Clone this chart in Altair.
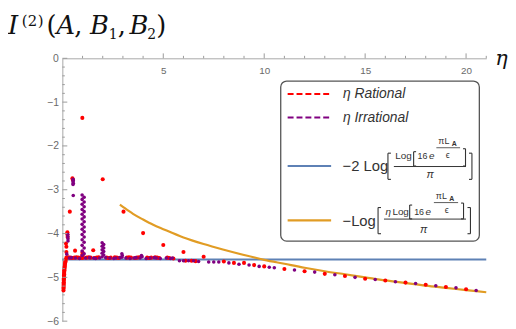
import altair as alt
import pandas as pd

# ---------------- data ----------------
# eta Rational (red points): (eta, value)
rational_column = [
    (0.167, -4.60), (0.154, -4.63), (0.143, -4.66), (0.133, -4.69), (0.125, -4.72),
    (0.118, -4.75), (0.111, -4.78), (0.105, -4.81), (0.100, -4.84), (0.095, -4.87),
    (0.091, -4.90), (0.087, -4.93), (0.083, -4.96), (0.080, -4.99), (0.077, -5.02),
    (0.074, -5.05), (0.071, -5.08), (0.069, -5.11), (0.067, -5.14), (0.065, -5.17),
    (0.063, -5.20), (0.061, -5.23), (0.059, -5.26), (0.057, -5.30)]
rational_upper = [
    (0.18, -4.23), (0.20, -4.30), (0.20, -4.42), (0.25, -3.97), (0.25, -4.02),
    (0.26, -4.08), (0.37, -3.50), (0.50, -2.74), (0.52, -2.77), (0.63, -4.39),
    (0.99, -1.36), (1.00, -4.43), (1.00, -4.47), (1.00, -4.50), (1.00, -4.53),
    (1.00, -4.56), (1.53, -4.38), (2.00, -2.76), (3.03, -3.50), (4.00, -3.99),
    (5.00, -4.26), (6.00, -4.42), (7.00, -4.53)]
rational_band = [
    (0.2, -4.55), (0.3, -4.54), (0.4, -4.55), (0.5, -4.56), (0.6, -4.55), (0.7, -4.54),
    (0.8, -4.55), (0.9, -4.56), (1.2, -4.55), (1.3, -4.54), (1.4, -4.55), (1.6, -4.56),
    (1.7, -4.55), (1.8, -4.54), (2.2, -4.55), (2.3, -4.56), (2.4, -4.55), (2.6, -4.54),
    (2.7, -4.55), (2.8, -4.56), (3.2, -4.55), (3.3, -4.54), (3.4, -4.55), (3.6, -4.56),
    (3.7, -4.55), (3.8, -4.54), (4.2, -4.55), (4.3, -4.56), (4.4, -4.55), (4.6, -4.54),
    (4.7, -4.55), (4.8, -4.56), (5.2, -4.55), (5.3, -4.56), (5.5, -4.57),
    (6.1, -4.62), (6.4, -4.62), (6.6, -4.63)]
rational_tail = [
    (8.0, -4.64), (8.5, -4.67), (9.0, -4.67), (9.5, -4.72), (10.0, -4.75),
    (11.0, -4.81), (12.0, -4.86), (13.0, -4.92), (14.0, -4.97), (15.0, -5.03),
    (16.0, -5.07), (17.0, -5.12), (18.0, -5.17), (19.0, -5.22), (20.0, -5.27)]

# eta Irrational (purple points): (eta, value)
irrational_left = [
    (0.22, -4.47), (0.27, -4.02), (0.27, -4.07), (0.28, -4.12), (0.28, -4.17),
    (0.53, -2.76), (0.54, -2.79), (0.53, -2.82), (0.54, -2.85), (0.53, -2.88), (0.54, -3.13)]
irrational_one = [
    (0.98, -3.12), (1.08, -3.17), (0.98, -3.22), (1.08, -3.28), (0.98, -3.33),
    (1.08, -3.39), (0.98, -3.45), (1.08, -3.50), (0.98, -3.56), (1.08, -3.62),
    (0.98, -3.67), (1.08, -3.73), (0.98, -3.79), (1.08, -3.85), (0.98, -3.90),
    (1.08, -3.96), (0.98, -4.02), (1.08, -4.08), (0.98, -4.14), (1.08, -4.20),
    (0.98, -4.27), (1.08, -4.33), (0.98, -4.40), (1.08, -4.46), (0.98, -4.50)]
irrational_two = [
    (1.97, -4.21), (2.05, -4.25), (1.97, -4.29), (2.05, -4.33), (1.97, -4.37),
    (2.05, -4.41), (1.97, -4.45), (2.05, -4.49), (1.97, -4.53),
    (2.95, -4.46), (2.97, -4.50), (2.95, -4.54), (3.92, -4.50), (3.95, -4.53)]
irrational_band = [
    (0.35, -4.56), (0.45, -4.55), (0.65, -4.56), (0.85, -4.57), (1.15, -4.56),
    (1.35, -4.55), (1.55, -4.56), (1.65, -4.57), (1.85, -4.56), (2.15, -4.55),
    (2.35, -4.56), (2.55, -4.57), (2.65, -4.56), (2.85, -4.55), (3.15, -4.56),
    (3.35, -4.57), (3.55, -4.56), (3.65, -4.55), (3.85, -4.56), (4.15, -4.57),
    (4.35, -4.56), (4.55, -4.55), (4.65, -4.56), (4.85, -4.57), (5.15, -4.56),
    (5.35, -4.57), (5.45, -4.56),
    (5.8, -4.62), (6.0, -4.62), (6.25, -4.62), (6.5, -4.62), (6.75, -4.64)]
irrational_tail = [
    (7.25, -4.65), (7.5, -4.65), (7.75, -4.65), (8.25, -4.67), (8.75, -4.70),
    (9.25, -4.72), (9.75, -4.75), (10.25, -4.77), (10.5, -4.78), (11.5, -4.83),
    (12.5, -4.88), (13.5, -4.94), (14.5, -5.00), (15.5, -5.05), (16.5, -5.10),
    (17.5, -5.14), (18.5, -5.19), (19.5, -5.24), (20.5, -5.30)]

# -2 Log[...] (blue, constant) and -Log[eta ...] (orange curve)
blue_line = [(0.0, -4.59), (21.0, -4.59)]
orange_curve = [
    (2.85, -3.34), (3.0, -3.39), (3.5, -3.55), (4.0, -3.68), (4.5, -3.80), (5.0, -3.90),
    (6.0, -4.09), (7.0, -4.24), (8.0, -4.37), (9.0, -4.49), (10.0, -4.60), (11.0, -4.69),
    (12.0, -4.78), (13.0, -4.86), (14.0, -4.93), (15.0, -5.00), (16.0, -5.07),
    (17.0, -5.13), (18.0, -5.19), (19.0, -5.24), (20.0, -5.29), (21.0, -5.34)]

x_major = [5, 10, 15, 20]
x_minor = [1, 2, 3, 4, 6, 7, 8, 9, 11, 12, 13, 14, 16, 17, 18, 19, 21]
y_major = [0, -1, -2, -3, -4, -5, -6]
y_minor = [-0.2, -0.4, -0.6, -0.8, -1.2, -1.4, -1.6, -1.8, -2.2, -2.4, -2.6, -2.8,
           -3.2, -3.4, -3.6, -3.8, -4.2, -4.4, -4.6, -4.8, -5.2, -5.4, -5.6, -5.8]

# ---------------- tables ----------------
def pts(*groups):
    rows = [p for g in groups for p in g]
    return pd.DataFrame({"eta": [r[0] for r in rows], "val": [r[1] for r in rows]})

red_df = pts(rational_column, rational_upper, rational_band, rational_tail)
pur_df = pts(irrational_left, irrational_one, irrational_two, irrational_band, irrational_tail)
blue_df = pts(blue_line)
orange_df = pts(orange_curve)
one = pd.DataFrame({"k": [1]})

W, H = 429, 266
xs = alt.Scale(domain=[0, 21], nice=False, zero=False)
ys = alt.Scale(domain=[-6, 0], nice=False, zero=False)
AX = "#a8a8a8"
LAB = "#6a6a6a"

x_axis = alt.Axis(orient="bottom", offset=-H, values=x_major, ticks=False, tickSize=0,
                  domain=True, domainColor=AX, domainWidth=1, grid=False, title=None,
                  labelColor=LAB, labelFont="Liberation Sans", labelFontSize=10,
                  labelPadding=7)
y_axis = alt.Axis(orient="left", values=y_major, ticks=False, tickSize=0, domain=True,
                  domainColor=AX, domainWidth=1, grid=False, title=None,
                  labelColor=LAB, labelFont="Liberation Sans", labelFontSize=10.5,
                  labelPadding=4)

X = alt.X("eta:Q", scale=xs, axis=x_axis)
Y = alt.Y("val:Q", scale=ys, axis=y_axis)

blue = alt.Chart(blue_df).mark_line(color="#5E81B5", strokeWidth=2).encode(x=X, y=Y)
orange = alt.Chart(orange_df).mark_line(color="#E19C24", strokeWidth=2.2,
                                        interpolate="monotone").encode(x=X, y=Y)
red = alt.Chart(red_df).mark_circle(color="#FF0000", size=17, opacity=1).encode(x=X, y=Y)
purple = alt.Chart(pur_df).mark_circle(color="#800080", size=13, opacity=1).encode(x=X, y=Y)

def xticks(vals, length):
    return alt.Chart(pd.DataFrame({"eta": vals})).mark_rule(color="#9a9a9a", strokeWidth=1).encode(
        x=X, y=alt.value(0), y2=alt.value(-length))

def yticks(vals, length):
    return alt.Chart(pd.DataFrame({"val": vals})).mark_rule(color="#9a9a9a", strokeWidth=1).encode(
        y=Y, x=alt.value(0), x2=alt.value(length))

def txt(s, x, y, size, font="Liberation Sans", style="normal", color="#333333",
        weight="normal"):
    return alt.Chart(one).mark_text(text=s, align="left", baseline="alphabetic",
                                    fontSize=size, font=font, fontStyle=style,
                                    fontWeight=weight, color=color).encode(
        x=alt.value(x), y=alt.value(y))

def hbar(x1, x2, y, color="#333333", width=1.0, dash=None):
    kw = {"strokeDash": dash} if dash else {}
    return alt.Chart(one).mark_rule(color=color, strokeWidth=width, **kw).encode(
        x=alt.value(x1), x2=alt.value(x2), y=alt.value(y))

def vbar(x, y1, y2, color="#333333", width=1.0):
    return alt.Chart(one).mark_rule(color=color, strokeWidth=width).encode(
        x=alt.value(x), y=alt.value(y1), y2=alt.value(y2))

def bracket(x, y1, y2, left=True, serif=3, color="#333333", width=1.1):
    d = serif if left else -serif
    return [vbar(x, y1, y2, color, width), hbar(x, x + d, y1, color, width),
            hbar(x, x + d, y2, color, width)]

SERIF = "DejaVu Serif"
TC = "#111111"
title_parts = [
    txt("I", -55, -25, 26, SERIF, "italic", TC),
    txt("(", -41, -33, 15, SERIF, "normal", TC),
    txt("2", -35, -33, 15, SERIF, "normal", TC),
    txt(")", -25, -33, 15, SERIF, "normal", TC),
    txt("(", -16, -25, 26, SERIF, "normal", TC),
    txt("A", -6, -25, 26, SERIF, "italic", TC),
    txt(",", 12, -25, 26, SERIF, "normal", TC),
    txt("B", 28, -25, 26, SERIF, "italic", TC),
    txt("1", 47, -20, 14, SERIF, "normal", TC),
    txt(",", 56, -25, 26, SERIF, "normal", TC),
    txt("B", 68, -25, 26, SERIF, "italic", TC),
    txt("2", 86, -20, 14, SERIF, "normal", TC),
    txt(")", 95, -25, 26, SERIF, "normal", TC),
    txt("η", 438, 6.5, 21, SERIF, "italic", TC),
]

LC = "#333333"
legend_parts = [
    alt.Chart(one).mark_rect(fill="white", stroke="#555555", strokeWidth=1.3,
                             cornerRadius=6).encode(
        x=alt.value(221), x2=alt.value(422), y=alt.value(23), y2=alt.value(185)),
    hbar(228, 273, 36, "#FF0000", 2, [6, 3]),
    hbar(228, 273, 60, "#800080", 2, [6, 3]),
    hbar(228, 272, 109, "#5E81B5", 2),
    hbar(228, 272, 164, "#E19C24", 2.2),
    txt("η Rational", 284, 40, 14, style="italic", color=LC),
    txt("η Irrational", 284, 64, 14, style="italic", color=LC),
    # -2 Log[ Log[16 e^(pi L_A / eps)] / pi ]
    txt("−2 Log", 283.5, 114.5, 15, color=LC),
    *bracket(329.5, 96, 122.5, True, 3),
    txt("Log", 337, 102, 10, color=LC),
    *bracket(355.5, 94.5, 109, True, 2.5),
    txt("16", 359.5, 102, 9, color=LC),
    txt("e", 371, 102, 10, style="italic", color=LC),
    txt("πL", 380.5, 87, 9, color=LC),
    txt("A", 394, 88.5, 7, color=LC, weight="bold"),
    hbar(378.5, 402.5, 90.5, LC, 0.8),
    txt("ϵ", 388, 101, 9, color=LC),
    *bracket(408, 91.5, 109, False, 2.5),
    hbar(335.5, 408.5, 109.5, LC, 1),
    txt("π", 368.5, 121.5, 11, style="italic", color=LC),
    *bracket(414.5, 96, 122.5, False, 3),
    # -Log[ eta Log[16 e^(pi L_A / eps)] / pi ]
    txt("−Log", 283.5, 169.5, 15, color=LC),
    *bracket(319.5, 151, 177.5, True, 3),
    txt("η", 327, 158.3, 10, style="italic", color=LC),
    txt("Log", 334, 158.3, 10, color=LC),
    *bracket(351.5, 148.5, 162.5, True, 2.5),
    txt("16", 356, 158.3, 9, color=LC),
    txt("e", 367.5, 158.3, 10, style="italic", color=LC),
    txt("πL", 378, 142.7, 9, color=LC),
    txt("A", 391.5, 144, 7, color=LC, weight="bold"),
    hbar(376, 400.5, 146, LC, 0.8),
    txt("ϵ", 387, 157, 9, color=LC),
    *bracket(406, 146.5, 162.5, False, 2.5),
    hbar(325.5, 408.5, 162.7, LC, 1),
    txt("π", 362, 177, 11, style="italic", color=LC),
    *bracket(413, 151, 177.5, False, 3),
]

chart = alt.layer(
    blue, orange, red, purple,
    xticks(x_major, 5), xticks(x_minor, 2.5), yticks(y_major, 5), yticks(y_minor, 2.5),
    *legend_parts, *title_parts
).properties(
    width=W, height=H,
    autosize=alt.AutoSizeParams(type="none"),
    padding={"left": 55, "top": 49, "right": 22, "bottom": 5},
    background="white",
).configure_view(stroke=None)

chart.save("out.html", embed_options={"renderer": "svg", "actions": False})
